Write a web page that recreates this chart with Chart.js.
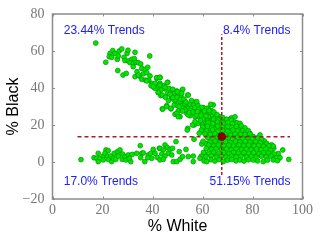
<!DOCTYPE html>
<html>
<head>
<meta charset="utf-8">
<script src="https://cdn.jsdelivr.net/npm/chart.js@4/dist/chart.umd.min.js"></script>
<style>
html, body { margin: 0; padding: 0; background: #fff; }
canvas { display: block; }
</style>
</head>
<body>
<canvas id="chart" width="320" height="240"></canvas>
<script>
// valores
const upperWhite = [17.3,21.3,23.0,22.7,24.1,25.0,23.7,25.9,26.7,27.7,26.3,29.8,30.2,33.0,38.9,28.6,29.0,30.3,31.7,32.7,31.0,32.3,33.4,34.3,35.3,32.3,26.1,28.2,29.5,33.8,35.7,37.0,38.1,33.0,34.7,36.3,37.7,39.0,35.7,37.1,38.5,34.3,39.7,41.7,40.3,41.7,43.0,42.3,43.3,41.0,43.0];
const upperBlack = [64.3,53.9,58.7,56.9,60.2,58.7,56.6,55.5,60.0,61.1,57.3,58.7,60.4,59.3,57.3,56.6,54.8,54.6,55.5,55.9,53.7,53.3,53.9,53.7,53.0,51.5,49.4,47.0,47.9,48.8,50.6,50.1,51.2,46.1,46.5,47.6,48.3,46.5,44.7,44.3,44.3,47.0,42.5,45.2,40.7,41.6,42.5,37.5,35.9,39.8,39.3];

const middleWhite = [37.7,39.4,41.0,43.0,41.7,40.3,43.0,44.7,46.1,45.0,43.4,42.3,43.9,46.1,46.6,47.9,49.7,51.9,54.1,50.3,48.3,47.7,49.0,51.4,45.7,43.9,47.4,48.7,50.0,51.9,53.0,55.0,57.0,58.1,56.3,54.3,52.3,50.3,49.0,51.0,53.7,55.0,57.0,59.0,60.3,62.3,64.3,63.0,60.3,58.3,57.0,59.7,61.7,63.7,56.7,58.3,61.0,63.0,65.0,54.1,43.0,45.9,45.0,48.1,52.1,54.3,49.9,51.7,47.7,49.0,51.0,53.0,57.7,56.3,63.3,44.1,45.7,47.3,49.7,50.3,53.0,55.0,57.0,59.7,61.7,59.0,61.0,63.7,54.3,57.7,62.3,65.0,67.0,71.5,60.3];
const middleBlack = [43.8,41.3,42.5,45.6,45.6,40.7,41.6,41.3,43.1,39.5,38.9,37.7,36.2,37.1,39.8,38.9,38.4,38.9,36.2,36.2,36.2,34.4,33.0,35.3,30.5,28.7,28.7,30.8,30.5,31.7,30.5,31.2,32.3,30.8,28.1,29.0,29.0,27.6,25.8,24.5,26.3,25.0,26.3,28.1,29.4,29.0,30.8,26.3,26.3,24.5,24.5,23.6,23.6,24.5,20.0,20.9,20.9,21.8,22.7,18.2,45.8,42.9,40.4,39.3,39.3,36.2,38.0,37.1,35.3,33.5,32.6,31.4,32.6,30.8,31.2,28.6,29.9,29.0,26.3,24.5,28.1,28.1,28.5,29.5,29.0,26.3,26.3,27.7,25.4,25.4,24.5,24.1,24.5,23.8,23.6];

const fillBandWhite = [45.2,47.0,46.4,48.2,49.8,51.2,52.6,53.4,55.6,56.8,58.4,50.6,52.0,54.8,56.2,58.0,59.4,60.8,62.6,64.6,61.4,59.2,62.0,64.0,65.8,66.6,60.0,62.8,65.2];
const fillBandBlack = [35.0,36.6,33.2,34.8,35.0,33.9,34.0,32.4,33.2,29.4,28.4,30.0,27.5,26.8,27.0,27.2,25.3,27.6,27.8,27.0,24.9,22.4,22.2,23.0,25.6,23.0,20.0,19.8,20.5];

const lowerWhite = [11.4,16.6,18.3,17.7,19.0,18.3,20.3,21.4,22.3,21.0,22.0,20.3,22.3,23.7,23.3,24.7,24.3,25.3,26.0,27.0,26.3,28.0,27.9,29.0,29.4,30.3,31.3,30.7,31.9,33.7,35.1,35.7,35.3,36.9,36.3,38.3,39.3,39.7,38.1,40.3,41.0,41.9,42.7,49.4,43.0,45.0,44.3,45.9,47.0,48.0,46.3,43.7,45.0,47.7,43.0,44.3,48.3,49.7,51.0,52.0,50.7,53.4,54.3,56.3,56.3];
const lowerBlack = [1.3,2.3,4.7,2.0,2.0,0.2,3.2,6.5,6.1,4.7,3.2,1.1,1.4,0.2,3.2,4.7,2.0,1.4,5.6,6.5,3.2,4.3,1.4,2.9,1.1,3.8,0.2,2.0,4.1,4.7,8.8,4.7,2.3,0.2,4.9,3.8,4.7,2.0,2.3,6.8,4.7,2.5,7.4,11.0,7.4,9.2,6.5,7.9,6.8,7.4,4.7,4.3,3.2,3.8,1.1,1.4,0.2,0.2,1.4,2.9,5.6,6.8,2.9,3.2,0.2];

const denseWhite = [
  64.5,66.3,68.1,69.7,71.6,73.0,
  62.2,64.1,66.0,68.2,70.1,72.0,73.8,75.0,
  56.0,57.0,60.1,62.0,63.8,66.1,68.0,70.2,71.8,73.6,75.5,77.0,
  53.9,59.5,61.6,64.0,66.2,68.1,70.0,72.2,74.0,76.1,77.4,78.3,
  58.7,61.0,63.1,65.0,67.2,69.0,71.1,73.0,75.2,77.0,78.9,80.3,83.0,
  56.6,62.0,64.2,66.0,68.1,70.2,72.0,74.1,76.0,78.2,80.0,82.1,83.6,
  59.7,60.2,63.0,65.1,67.0,69.2,71.0,73.2,75.0,77.1,79.0,81.2,83.1,85.7,
  62.5,64.6,66.4,68.6,70.5,72.4,74.6,76.5,78.4,80.6,82.5,84.4,86.6,88.3,
  61.5,63.6,65.4,67.5,69.6,71.5,73.4,75.6,77.5,79.4,81.6,83.5,85.4,87.2,
  60.4,62.6,64.5,66.6,68.4,70.6,72.5,74.4,76.6,78.5,80.4,82.6,84.5,86.4,88.6,92.1,
  59.5,61.4,63.5,65.6,67.5,69.4,71.6,73.5,75.4,77.6,79.5,81.4,83.6,85.5,87.4,89.6,91.0,
  59.0,60.6,61.7,63.4,65.0,66.6,68.3,70.0,71.7,73.4,75.0,76.6,78.4,80.3,82.0,84.3,86.0,88.3,90.0,94.5
];
const denseBlack = [
  23.2,22.8,24.0,23.1,22.6,24.4,
  21.3,20.8,21.6,21.0,21.4,20.7,21.2,20.9,
  20.0,21.8,18.9,19.3,18.6,19.4,18.8,19.2,18.7,19.3,19.5,18.4,
  17.3,17.2,16.8,17.4,16.7,17.1,16.6,17.3,16.8,17.0,16.4,16.9,
  15.5,15.2,14.8,15.3,14.7,15.1,14.6,15.2,14.9,14.8,15.2,13.7,14.6,
  12.3,13.2,12.8,13.3,12.7,13.1,12.6,13.3,12.8,13.1,12.7,12.9,12.2,
  9.7,11.2,10.8,11.3,10.7,11.1,10.6,11.2,10.8,11.1,10.7,11.0,10.5,10.0,
  9.2,8.8,9.3,8.7,9.1,8.6,9.2,8.8,9.1,8.7,9.0,8.5,8.8,8.6,
  7.3,6.8,7.2,6.7,7.1,6.6,7.2,6.8,7.1,6.7,7.0,6.6,7.1,6.4,
  5.2,4.8,5.3,4.7,5.1,4.6,5.2,4.8,5.1,4.7,5.0,4.6,5.1,4.8,4.4,6.5,
  3.2,2.8,3.3,2.7,3.1,2.6,3.2,2.8,3.1,2.7,3.0,2.6,3.1,2.8,3.2,2.4,2.3,
  2.0,0.6,0.2,1.2,0.5,1.3,0.2,1.0,1.4,0.6,1.1,0.5,1.2,1.1,0.6,0.2,1.0,1.1,0.7,1.4
];

const staggerWhite = [65.3,67.2,69.0,70.8,72.7,63.1,65.0,67.1,69.1,71.0,72.9,74.6,61.2,62.9,65.0,67.0,69.0,71.1,72.8,74.7,76.3,60.6,62.8,65.1,67.1,69.2,71.2,73.1,75.0,77.0,79.0,62.0,64.1,66.0,68.0,70.1,72.0,74.0,76.1,78.1,79.9,81.5,63.1,65.0,67.1,69.0,71.1,73.1,75.0,77.0,79.0,81.1,83.0,84.7,61.4,63.6,65.5,67.6,69.5,71.5,73.6,75.5,77.6,79.5,81.5,83.6,85.5,87.6,62.5,64.5,66.5,68.4,70.6,72.5,74.5,76.4,78.6,80.5,82.4,84.6,86.5,88.5,61.5,63.5,65.6,67.5,69.5,71.5,73.6,75.5,77.4,79.6,81.5,83.4,85.6,87.5,89.4,90.3];
const staggerBlack = [22.1,23.4,22.4,22.7,21.6,19.9,20.2,20.0,20.1,19.8,20.0,20.2,18.0,17.8,18.1,17.9,18.2,17.7,18.1,17.9,17.7,16.2,15.9,16.1,15.8,16.2,15.9,16.1,15.8,15.7,15.4,14.0,13.8,14.2,13.9,14.1,13.8,14.2,13.9,14.0,13.8,12.9,12.0,11.8,12.1,11.9,12.2,11.8,12.1,11.9,12.0,11.7,11.6,11.4,10.0,9.9,10.1,9.8,10.2,9.9,10.1,9.8,10.0,9.8,10.0,9.7,9.6,9.3,8.0,7.9,8.1,7.8,8.2,7.9,8.0,7.8,8.1,7.9,7.7,7.8,7.6,7.4,4.0,3.9,4.1,3.8,4.2,3.9,4.0,3.8,4.1,3.9,3.7,3.8,3.9,3.6,3.4,4.6];

const medianWhite = [67.7];
const medianBlack = [13.7];
const hLineWhite = [10, 95];
const vLineBlack = [-7, 69];

const xTicks = [0, 20, 40, 60, 80, 100];
const yTicks = [-20, 0, 20, 40, 60, 80];

const trendTexts = ['23.44% Trends', '8.4% Trends', '17.0% Trends', '51.15% Trends'];
const trendWhite = [4.5, 95.2, 4.5, 95.2];
const trendBlack = [70.9, 70.9, -10.8, -10.8];
const trendAlign = ['left', 'right', 'left', 'right'];

function toPoints(xs, ys) {
    return xs.map((x, i) => ({ x: x, y: ys[i] }));
}

const allWhite = [...upperWhite, ...middleWhite, ...fillBandWhite, ...lowerWhite, ...staggerWhite, ...denseWhite];
const allBlack = [...upperBlack, ...middleBlack, ...fillBandBlack, ...lowerBlack, ...staggerBlack, ...denseBlack];

// moldura cinza, ticks para dentro e textos azuis
const framePlugin = {
    id: 'frame',
    afterDatasetsDraw(chart) {
        const { ctx, chartArea: a, scales } = chart;
        ctx.save();
        ctx.strokeStyle = '#8c8c8c';
        ctx.lineWidth = 1.5;
        ctx.strokeRect(a.left, a.top, a.right - a.left, a.bottom - a.top);
        ctx.lineWidth = 1;
        ctx.beginPath();
        xTicks.forEach(v => {
            const px = Math.round(scales.x.getPixelForValue(v)) + 0.5;
            ctx.moveTo(px, a.top); ctx.lineTo(px, a.top + 2.5);
            ctx.moveTo(px, a.bottom); ctx.lineTo(px, a.bottom - 2.5);
        });
        yTicks.forEach(v => {
            const py = Math.round(scales.y.getPixelForValue(v)) + 0.5;
            ctx.moveTo(a.left, py); ctx.lineTo(a.left + 2.5, py);
            ctx.moveTo(a.right, py); ctx.lineTo(a.right - 2.5, py);
        });
        ctx.stroke();

        ctx.fillStyle = '#2020f5';
        ctx.font = '12px "Liberation Sans"';
        ctx.textBaseline = 'middle';
        trendTexts.forEach((t, i) => {
            ctx.textAlign = trendAlign[i];
            ctx.fillText(t, scales.x.getPixelForValue(trendWhite[i]), scales.y.getPixelForValue(trendBlack[i]));
        });
        ctx.restore();
    }
};

new Chart(document.getElementById('chart'), {
    type: 'scatter',
    data: {
        datasets: [
            {
                label: 'Trends',
                data: toPoints(allWhite, allBlack),
                backgroundColor: '#00e600',
                borderColor: '#00a000',
                borderWidth: 0.8,
                pointRadius: 2.4,
                order: 3
            },
            {
                label: 'h',
                data: toPoints(hLineWhite, [medianBlack[0], medianBlack[0]]),
                showLine: true,
                borderColor: '#a81e28',
                borderWidth: 1.5,
                borderDash: [4, 3],
                pointRadius: 0,
                order: 2
            },
            {
                label: 'v',
                data: toPoints([medianWhite[0], medianWhite[0]], vLineBlack),
                showLine: true,
                borderColor: '#a81e28',
                borderWidth: 1.5,
                borderDash: [3, 2],
                pointRadius: 0,
                order: 2
            },
            {
                label: 'median',
                data: toPoints(medianWhite, medianBlack),
                backgroundColor: '#8b0000',
                borderColor: '#7a0000',
                borderWidth: 0.8,
                pointRadius: 3.8,
                order: 1
            }
        ]
    },
    plugins: [framePlugin],
    options: {
        responsive: false,
        animation: false,
        layout: { padding: { left: 0, right: 17.5, top: 14, bottom: 0 } },
        plugins: { legend: { display: false }, tooltip: { enabled: false } },
        scales: {
            x: {
                type: 'linear',
                min: 0,
                max: 100,
                afterBuildTicks: s => { s.ticks = xTicks.map(v => ({ value: v })); },
                afterFit: s => { s.height = 41; },
                grid: { display: false },
                border: { display: false },
                ticks: {
                    color: '#777777',
                    padding: -5,
                    maxRotation: 0,
                    font: { family: '"Liberation Serif"', size: 14 }
                },
                title: {
                    display: true,
                    text: '% White',
                    color: '#000000',
                    padding: { top: 1, bottom: 4 },
                    font: { family: '"Liberation Sans"', size: 16 }
                }
            },
            y: {
                type: 'linear',
                min: -20,
                max: 80,
                afterBuildTicks: s => { s.ticks = yTicks.map(v => ({ value: v })); },
                afterFit: s => { s.width = 52.5; },
                grid: { display: false },
                border: { display: false },
                ticks: {
                    color: '#777777',
                    padding: 0,
                    font: { family: '"Liberation Serif"', size: 14 },
                    callback: v => String(v).replace('-', '\u2212')
                },
                title: {
                    display: true,
                    text: '% Black',
                    color: '#000000',
                    padding: { top: 4, bottom: 0 },
                    font: { family: '"Liberation Sans"', size: 16 }
                }
            }
        }
    }
});
</script>
</body>
</html>
